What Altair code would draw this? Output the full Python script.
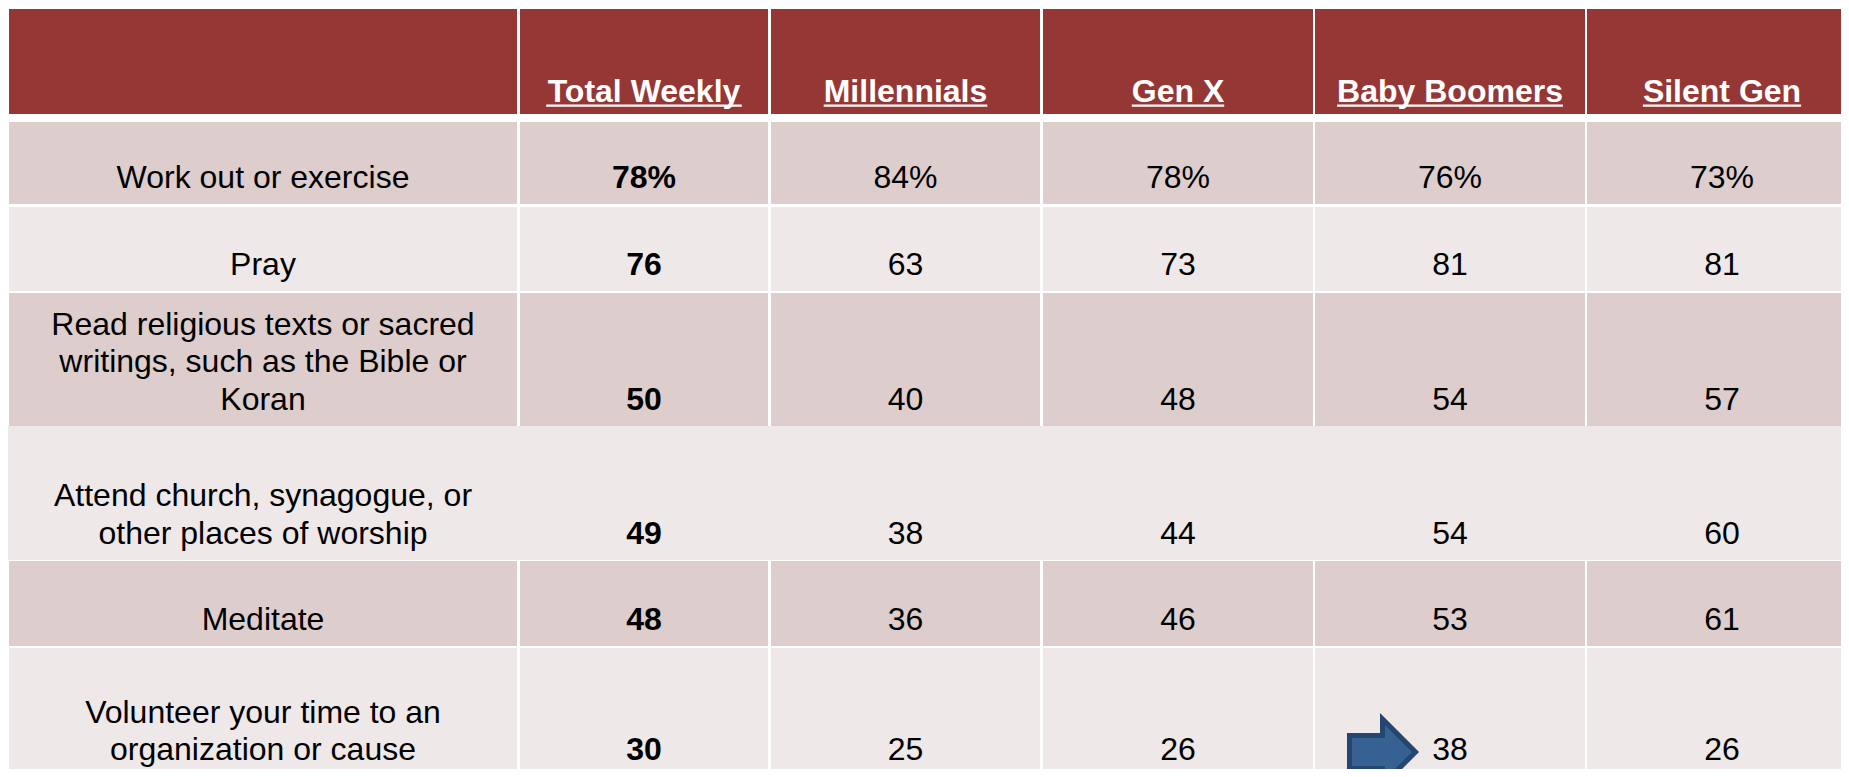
import altair as alt
import pandas as pd

# ---------------- data ----------------
columns = ["Total Weekly", "Millennials", "Gen X", "Baby Boomers", "Silent Gen"]
activities = [
    ["Work out or exercise"],
    ["Pray"],
    ["Read religious texts or sacred", "writings, such as the Bible or", "Koran"],
    ["Attend church, synagogue, or", "other places of worship"],
    ["Meditate"],
    ["Volunteer your time to an", "organization or cause"],
]
total_weekly = [78, 76, 50, 49, 48, 30]
millennials = [84, 63, 40, 38, 36, 25]
gen_x = [78, 73, 48, 44, 46, 26]
baby_boomers = [76, 81, 54, 54, 53, 38]
silent_gen = [73, 81, 57, 60, 61, 26]
series = [total_weekly, millennials, gen_x, baby_boomers, silent_gen]
highlight = ("Baby Boomers", 5)   # arrow points at this cell

# ---------------- layout (pixels, chart coordinates) ----------------
W, H = 1833, 761
col_left = [1, 512, 763, 1035, 1307, 1579]
col_right = [509, 760, 1032, 1305, 1577, 1849]
head_top, head_bottom, head_base = 1, 106, 94
row_top = [114, 199, 285, 418, 553, 640]
row_bottom = [196, 283, 418, 552, 638, 790]
base_gap = [16.5, 16.5, 16.5, 16.5, 16.5, 38]
merged_rows = [3]           # row drawn without column dividers
line_h = 37.5
FS = 32
FONT = "Liberation Sans, Arial, sans-serif"
HEAD_C = "#953735"
BAND = ["#DDCDCD", "#EEE8E8"]
arrow_dx, arrow_dy = -67.5, 104   # arrow centre relative to cell centre / row top

# Arial Bold advance widths (per 1000 em) for underline length
bold_w = {" ": 278, "T": 611, "o": 611, "t": 333, "a": 556, "l": 278, "W": 944,
          "e": 556, "k": 556, "y": 556, "M": 833, "i": 278, "n": 611, "s": 556,
          "G": 778, "X": 667, "B": 722, "b": 611, "m": 889, "r": 389, "S": 667}

def centre(c):
    return (col_left[c] + col_right[c]) / 2

# rectangles
rects = []
for c in range(6):
    rects.append(dict(x=col_left[c], x2=col_right[c], y=head_top, y2=head_bottom, fill=HEAD_C))
for r in range(6):
    colr = BAND[r % 2]
    if r in merged_rows:
        rects.append(dict(x=-1, x2=col_right[-1], y=row_top[r], y2=row_bottom[r], fill=colr))
    else:
        for c in range(6):
            rects.append(dict(x=col_left[c], x2=col_right[c], y=row_top[r], y2=row_bottom[r], fill=colr))
rect_df = pd.DataFrame(rects)

# header text + underline
head_txt, under = [], []
for i, name in enumerate(columns):
    cx = centre(i + 1)
    head_txt.append(dict(x=cx, y=head_base, t=name))
    w = sum(bold_w[ch] for ch in name) / 1000 * FS
    under.append(dict(x=cx - w / 2, x2=cx + w / 2, y=head_base + 3.6))
head_df = pd.DataFrame(head_txt)
under_df = pd.DataFrame(under)

# body text
normal, bold = [], []
for r, lines in enumerate(activities):
    base = row_bottom[r] - base_gap[r]
    n = len(lines)
    for k, ln in enumerate(lines):
        normal.append(dict(x=centre(0), y=base - (n - 1 - k) * line_h, t=ln))
    for i, vals in enumerate(series):
        s = f"{vals[r]}%" if r == 0 else f"{vals[r]}"
        rec = dict(x=centre(i + 1), y=base, t=s)
        (bold if i == 0 else normal).append(rec)
normal_df = pd.DataFrame(normal)
bold_df = pd.DataFrame(bold)

hc = columns.index(highlight[0]) + 1
hr = highlight[1]
arrow_df = pd.DataFrame([dict(x=centre(hc) + arrow_dx, y=row_top[hr] + arrow_dy)])

xs = alt.Scale(domain=[0, W], range=[0, W])
ys = alt.Scale(domain=[0, H], range=[0, H])
X = lambda f="x": alt.X(f"{f}:Q", scale=xs, axis=None)
Y = lambda f="y": alt.Y(f"{f}:Q", scale=ys, axis=None)

cells = alt.Chart(rect_df).mark_rect().encode(
    x=X(), x2="x2", y=Y(), y2="y2", fill=alt.Fill("fill:N", scale=None))

head_layer = alt.Chart(head_df).mark_text(
    font=FONT, fontSize=FS, fontWeight="bold", color="white",
    align="center", baseline="alphabetic").encode(x=X(), y=Y(), text="t:N")

under_layer = alt.Chart(under_df).mark_rule(color="white", strokeWidth=2.3).encode(
    x=X(), x2="x2", y=Y())

normal_layer = alt.Chart(normal_df).mark_text(
    font=FONT, fontSize=FS, color="black",
    align="center", baseline="alphabetic").encode(x=X(), y=Y(), text="t:N")

bold_layer = alt.Chart(bold_df).mark_text(
    font=FONT, fontSize=FS, fontWeight="bold", color="black",
    align="center", baseline="alphabetic").encode(x=X(), y=Y(), text="t:N")

arrow_path = "M-1,-0.5L0,-0.5L0,-1L1,0L0,1L0,0.5L-1,0.5Z"
arrow = alt.Chart(arrow_df).mark_point(
    shape=arrow_path, filled=True, fill="#386193", stroke="#24466F",
    strokeWidth=5, size=4356, opacity=1).encode(x=X(), y=Y())

chart = alt.layer(cells, head_layer, under_layer, normal_layer, bold_layer, arrow).properties(
    width=W, height=H, padding=0, autosize=alt.AutoSizeParams(type="none"),
    background="white"
).configure_view(stroke=None)

chart.save("out.html", embed_options={"renderer": "svg", "actions": False})
